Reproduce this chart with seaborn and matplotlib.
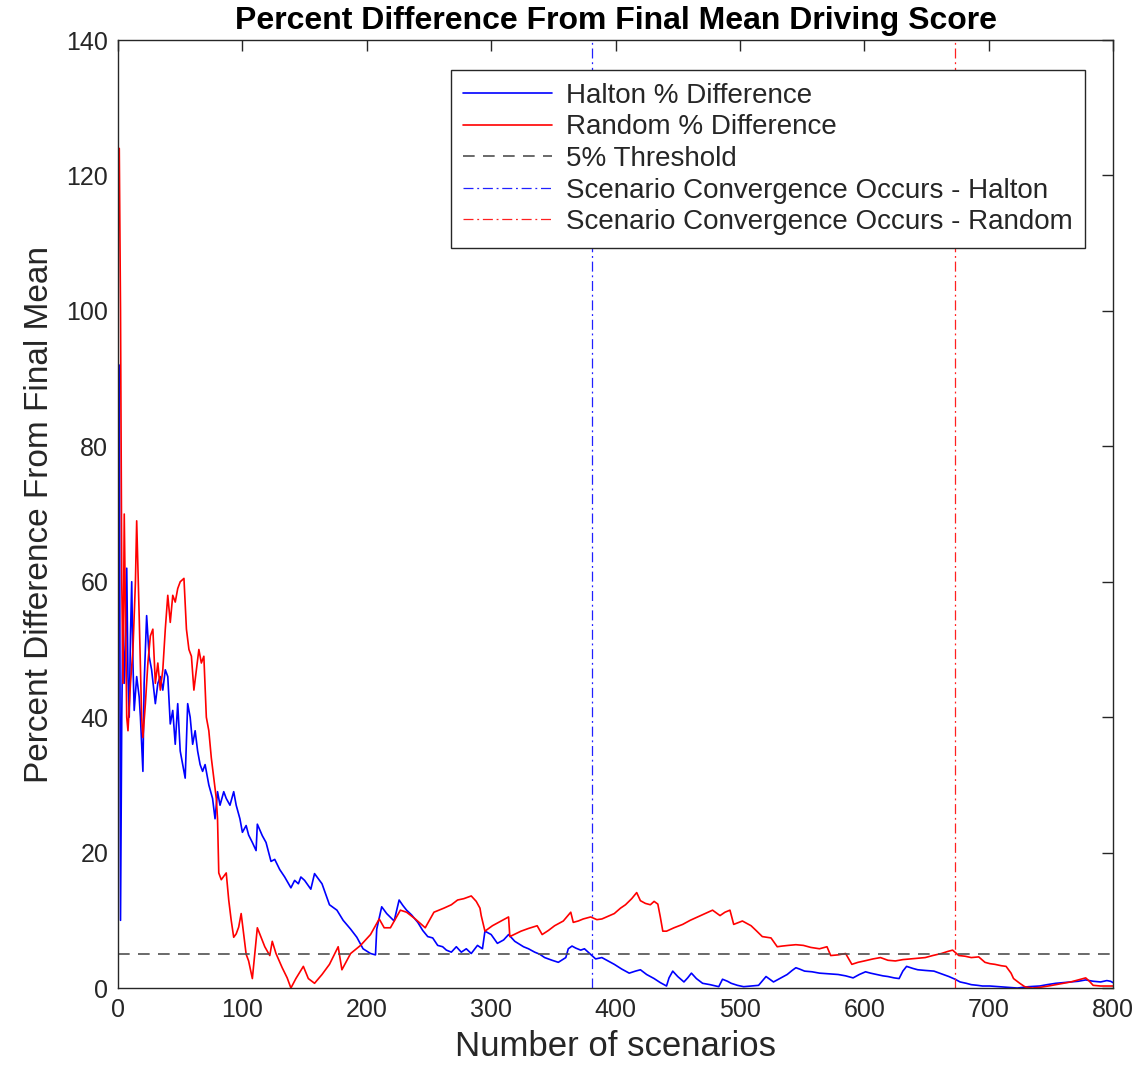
import matplotlib
matplotlib.use("Agg")
import matplotlib.pyplot as plt
import seaborn as sns
import pandas as pd

# Running percent difference from the final mean driving score (Halton sequence)
halton_n = [1, 2, 3, 4, 5, 6, 7, 8, 9, 10, 11, 12, 13, 15, 17, 18, 19, 20, 21, 23,
            25, 27, 30, 32, 34, 36, 38, 40, 42, 44, 46, 48, 50, 52, 54, 56, 58, 60, 62, 64,
            66, 68, 70, 73, 76, 78, 80, 82, 85, 87, 90, 93, 95, 98, 100, 103, 105, 108, 111, 112,
            116, 119, 123, 126, 130, 134, 139, 142, 145, 147, 150, 155, 158, 164, 170, 176, 181, 187, 192, 197,
            203, 207, 208, 212, 216, 222, 226, 229, 232, 236, 241, 245, 249, 253, 257, 261, 264, 268, 272, 276,
            280, 284, 289, 293, 295, 300, 305, 310, 314, 319, 326, 330, 335, 339, 343, 349, 354, 360, 362, 365,
            368, 372, 375, 378, 384, 389, 394, 399, 405, 411, 416, 420, 425, 431, 436, 441, 443, 446, 450, 455,
            458, 461, 465, 470, 476, 483, 486, 490, 493, 498, 503, 509, 515, 521, 524, 527, 532, 538, 542, 545,
            548, 552, 558, 564, 572, 579, 585, 591, 596, 601, 605, 610, 615, 619, 624, 628, 631, 634, 639, 643,
            649, 656, 662, 668, 673, 677, 682, 686, 691, 695, 701, 708, 715, 723, 732, 741, 747, 754, 760, 766,
            772, 778, 784, 790, 795, 798, 800]
halton_pct = [92, 10, 40, 56, 45, 50, 62, 46, 40, 52, 60, 48, 41, 46, 43, 40, 36, 32, 45, 55,
              49, 47, 42, 45, 46, 44, 47, 46, 39, 41, 36, 42, 35, 33, 31, 42, 40, 36, 38, 35,
              33, 32, 33, 30, 28, 25, 29, 27, 29, 28, 27, 29, 27, 25, 23, 24, 22.6, 21.5, 20.3, 24.2,
              22.5, 21.5, 18.7, 19, 17.5, 16.4, 14.8, 15.9, 15.4, 16.4, 15.9, 14.6, 16.9, 15.4, 12.3, 11.5, 10, 8.7, 7.5, 5.8,
              5.1, 4.9, 8.7, 12, 11, 9.9, 13, 12.2, 11.5, 10.8, 9.7, 8.5, 7.6, 7.4, 6.3, 6.1, 5.6, 5.3, 6.1, 5.3,
              5.8, 5.1, 6.3, 5.8, 8.4, 7.9, 6.6, 7.1, 7.9, 6.9, 6.1, 5.8, 5.3, 5, 4.5, 4.1, 3.8, 4.5, 5.8, 6.2,
              5.9, 5.6, 5.8, 5.3, 4.3, 4.5, 4, 3.5, 2.8, 2.2, 2.5, 2.7, 2, 1.4, 0.8, 0.3, 1.5, 2.5, 1.7, 0.9,
              1.5, 2.2, 1.4, 0.7, 0.5, 0.2, 1.3, 1, 0.7, 0.4, 0.2, 0.3, 0.4, 1.7, 1.3, 0.9, 1.4, 2, 2.6, 3,
              2.8, 2.5, 2.4, 2.2, 2.1, 2, 1.8, 1.5, 2, 2.4, 2.2, 2, 1.8, 1.7, 1.5, 1.4, 2.5, 3.2, 2.9, 2.7,
              2.6, 2.5, 2.1, 1.7, 1.3, 0.9, 0.7, 0.5, 0.4, 0.3, 0.3, 0.2, 0.1, 0, 0.2, 0.3, 0.5, 0.7, 0.8, 0.9,
              1, 1.2, 1, 0.9, 1.1, 1, 0.8]

# Running percent difference from the final mean driving score (random sampling)
random_n = [1, 2, 3, 4, 5, 6, 7, 8, 10, 12, 14, 15, 17, 19, 20, 22, 24, 26, 28, 30,
            32, 34, 36, 38, 40, 42, 44, 46, 48, 50, 53, 55, 57, 59, 61, 63, 65, 67, 69, 71,
            73, 75, 77, 79, 80, 81, 83, 85, 87, 89, 91, 93, 95, 97, 99, 101, 103, 105, 108, 112,
            115, 118, 122, 124, 127, 132, 136, 139, 143, 149, 153, 158, 164, 170, 177, 180, 187, 195, 203, 210,
            214, 219, 227, 232, 239, 247, 254, 262, 268, 273, 278, 284, 288, 291, 292, 295, 301, 307, 314, 315,
            324, 330, 337, 341, 346, 351, 358, 364, 366, 370, 374, 380, 385, 389, 394, 399, 404, 408, 413, 417,
            420, 424, 428, 431, 434, 436, 438, 441, 447, 454, 460, 466, 472, 478, 484, 488, 492, 495, 502, 509,
            513, 518, 525, 530, 534, 539, 545, 551, 557, 564, 570, 573, 579, 585, 590, 595, 600, 607, 613, 619,
            625, 631, 637, 643, 649, 655, 662, 667, 671, 676, 681, 686, 692, 697, 701, 705, 710, 714, 718, 720,
            725, 729, 735, 741, 748, 754, 760, 766, 772, 778, 781, 784, 790, 798, 800]
random_pct = [124, 100, 60, 45, 70, 55, 40, 38, 45, 50, 60, 69, 55, 40, 37, 42, 48, 52, 53, 45,
              48, 44, 47, 53, 58, 54, 58, 57, 59, 60, 60.5, 53, 50, 49, 44, 47, 50, 48, 49, 40,
              38, 34, 31, 28, 25, 17, 16, 16.5, 17, 13, 10, 7.5, 8, 9, 11, 8, 5, 4, 1.4, 8.9,
              7.5, 6.1, 4.8, 6.9, 5.1, 3, 1.5, 0, 1.4, 3.2, 1.4, 0.7, 2, 3.5, 6.1, 2.7, 5.1, 6.3, 7.9, 10.2,
              8.9, 8.9, 11.5, 11.2, 10.2, 8.9, 11.2, 11.8, 12.3, 13, 13.2, 13.6, 12.8, 11.8, 10.7, 8.4, 9.2, 9.8, 10.5, 7.6,
              8.4, 8.8, 9.2, 7.9, 8.5, 9.2, 9.9, 11.2, 9.7, 9.9, 10.2, 10.5, 10.1, 10.2, 10.6, 11, 11.8, 12.3, 13.2, 14.1,
              12.9, 12.5, 12.3, 12.8, 12.4, 10.5, 8.4, 8.4, 8.9, 9.4, 10, 10.5, 11, 11.5, 10.7, 11.2, 11.5, 9.4, 9.9, 9.2,
              8.5, 7.6, 7.4, 6.1, 6.2, 6.3, 6.4, 6.3, 6, 5.8, 6.1, 4.8, 4.9, 5.1, 3.5, 3.8, 4, 4.3, 4.5, 4.1,
              4, 4.2, 4.3, 4.4, 4.5, 4.8, 5.1, 5.4, 5.6, 4.8, 4.7, 4.5, 4.6, 3.8, 3.6, 3.5, 3.3, 3.2, 2.2, 1.4,
              0.7, 0.2, 0, 0.1, 0.3, 0.5, 0.7, 0.9, 1.2, 1.5, 1, 0.4, 0.3, 0.3, 0.3]

threshold_pct = 5
convergence_n = {"Halton": 381, "Random": 673}

sns.set_style("white")
plt.rcParams["font.family"] = ["Liberation Sans", "DejaVu Sans"]

halton_df = pd.DataFrame({"n": halton_n, "pct": halton_pct})
random_df = pd.DataFrame({"n": random_n, "pct": random_pct})

fig = plt.figure(figsize=(11.47, 10.86), dpi=100)
ax = fig.add_axes([0.1029, 0.0902, 0.8675, 0.8729])

sns.lineplot(data=halton_df, x="n", y="pct", ax=ax, color="#0000FF", lw=1.2,
             label="Halton % Difference", estimator=None, sort=False)
sns.lineplot(data=random_df, x="n", y="pct", ax=ax, color="#FF0000", lw=1.2,
             label="Random % Difference", estimator=None, sort=False)
ax.axhline(threshold_pct, color="#505050", lw=1.2, ls=(0, (7, 5)), label="5% Threshold")
ax.axvline(convergence_n["Halton"], color="#2020FF", lw=0.9, ls=(0, (8, 3, 1.5, 3)),
           label="Scenario Convergence Occurs - Halton")
ax.axvline(convergence_n["Random"], color="#FF2020", lw=0.9, ls=(0, (8, 3, 1.5, 3)),
           label="Scenario Convergence Occurs - Random")

ax.set_xlim(0, 800)
ax.set_ylim(0, 140)
ax.set_xticks(range(0, 801, 100))
ax.set_yticks(range(0, 141, 20))
ax.tick_params(direction="in", length=8, width=1, top=True, right=True,
               labelsize=18, colors="#262626", pad=7)
for s in ax.spines.values():
    s.set_visible(True)
    s.set_color("#262626")
    s.set_linewidth(1.0)

ax.set_xlabel("Number of scenarios", fontsize=25, color="#262626", labelpad=6)
ax.set_ylabel("Percent Difference From Final Mean", fontsize=24, color="#262626", labelpad=8)
ax.set_title("Percent Difference From Final Mean Driving Score", fontsize=23,
             fontweight="bold", color="black", pad=8)

leg = ax.legend(loc="upper right", bbox_to_anchor=(0.972, 0.968), borderaxespad=0,
                fontsize=20, frameon=True, fancybox=False, framealpha=1,
                edgecolor="#262626", handlelength=3.2, handletextpad=0.5,
                labelspacing=0.2, borderpad=0.45)
leg.get_frame().set_linewidth(1.0)

fig.savefig("out.png", dpi=100)
